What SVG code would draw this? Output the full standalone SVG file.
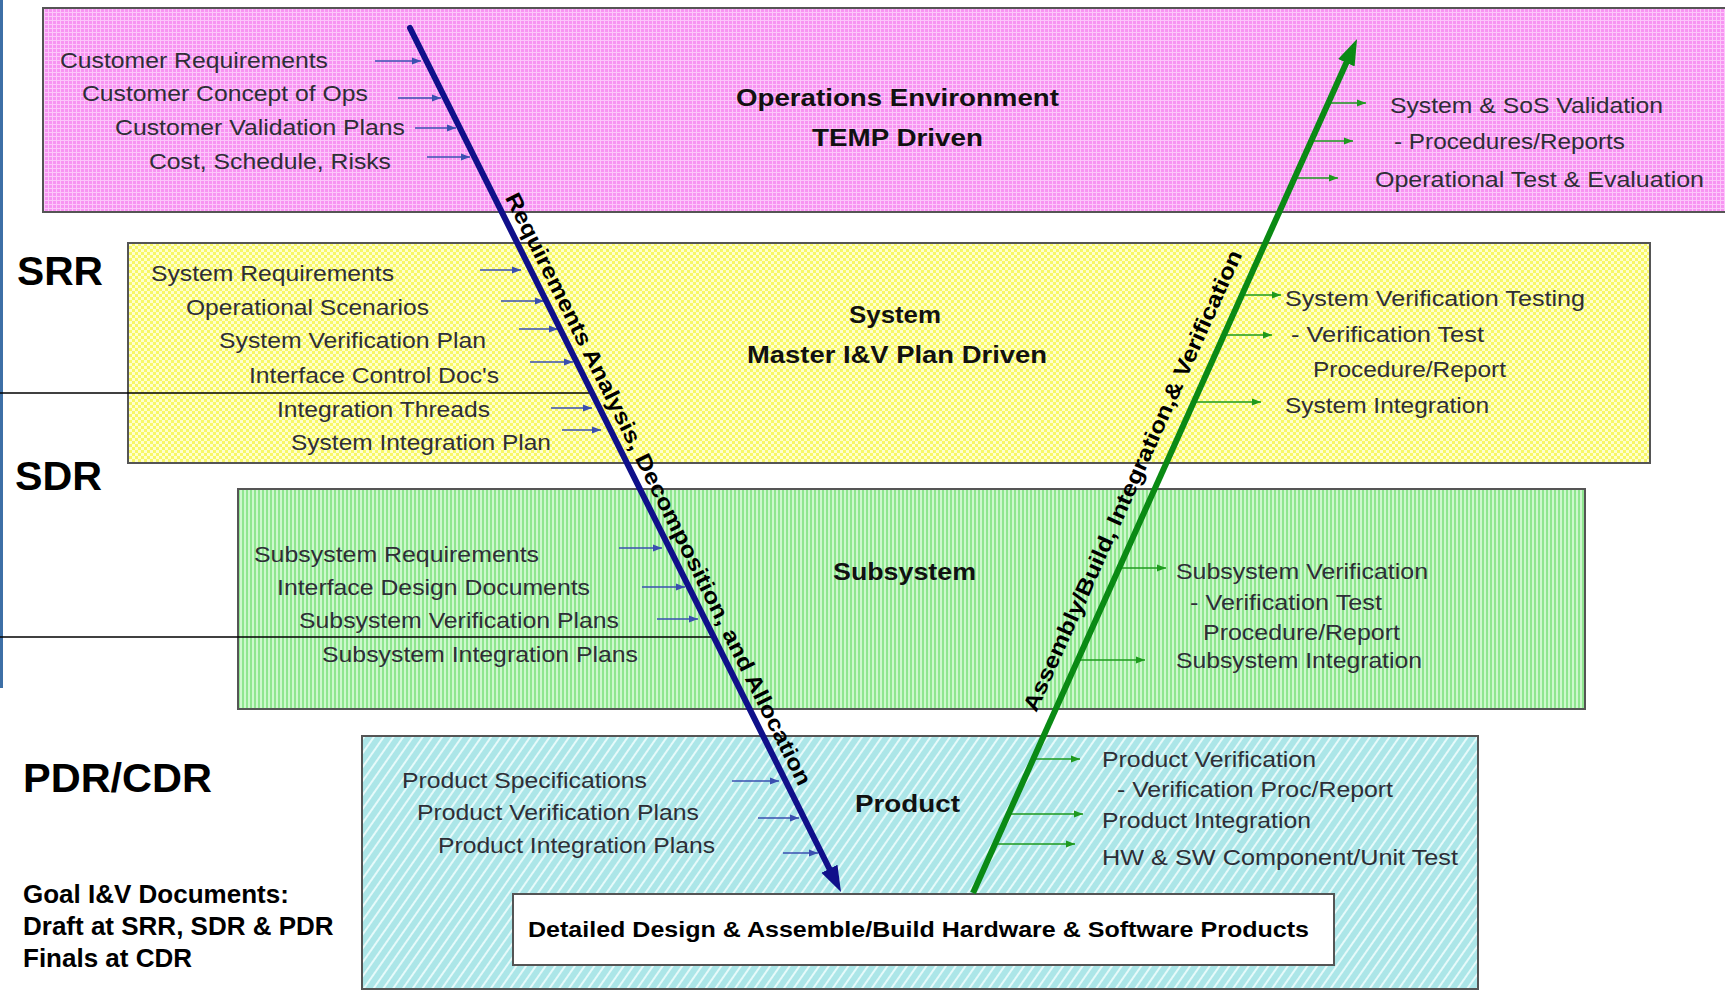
<svg xmlns="http://www.w3.org/2000/svg" width="1725" height="991" viewBox="0 0 1725 991">
<style>
.t{font-family:"Liberation Sans",Arial,sans-serif;font-size:22px;fill:#2e2e36}
.b{font-family:"Liberation Sans",Arial,sans-serif;font-weight:bold;font-size:24px;fill:#111}
.h{font-family:"Liberation Sans",Arial,sans-serif;font-weight:bold;font-size:40px;fill:#000}
.g{font-family:"Liberation Sans",Arial,sans-serif;font-weight:bold;font-size:26px;fill:#000}
.r{font-family:"Liberation Sans",Arial,sans-serif;font-weight:bold;font-size:22px;fill:#000}
.box{stroke:#555;stroke-width:2}
.sb{stroke:#3a4fb0;stroke-width:1.6;fill:none}
.sg{stroke:#1e9a1e;stroke-width:1.6;fill:none}
</style>
<defs>
<pattern id="pk" width="4" height="4" patternUnits="userSpaceOnUse"><rect width="4" height="4" fill="#f794f2"/><path d="M0 0.5H4M0.5 0V4" stroke="#fcc6fa" stroke-width="1"/></pattern>
<pattern id="yl" width="6" height="6" patternUnits="userSpaceOnUse"><rect width="6" height="6" fill="#f7f766"/><rect width="3" height="3" fill="#ffffcc"/><rect x="3" y="3" width="3" height="3" fill="#ffffcc"/></pattern>
<pattern id="gr" width="4" height="4" patternUnits="userSpaceOnUse"><rect width="4" height="4" fill="#8fe68f"/><rect width="2" height="4" fill="#cdf8cd"/></pattern>
<pattern id="cy" width="8" height="8" patternUnits="userSpaceOnUse" patternTransform="rotate(35)"><rect width="8" height="8" fill="#ace6e8"/><rect width="2" height="8" fill="#e6fafa"/></pattern>
<marker id="ab" markerWidth="9" markerHeight="8" refX="9" refY="4" orient="auto" markerUnits="userSpaceOnUse"><path d="M0,0.5 L9,4 L0,7.5 z" fill="#3a4fb0"/></marker>
<marker id="ag" markerWidth="9" markerHeight="8" refX="9" refY="4" orient="auto" markerUnits="userSpaceOnUse"><path d="M0,0.5 L9,4 L0,7.5 z" fill="#1e9a1e"/></marker>
<marker id="bigB" markerWidth="26" markerHeight="20" refX="12" refY="10" orient="auto" markerUnits="userSpaceOnUse"><path d="M0,1 L26,10 L0,19 z" fill="#10108a"/></marker>
<marker id="bigG" markerWidth="26" markerHeight="20" refX="12" refY="10" orient="auto" markerUnits="userSpaceOnUse"><path d="M0,1 L26,10 L0,19 z" fill="#0a8a14"/></marker>
</defs>
<rect width="1725" height="991" fill="#fff"/>
<rect x="0" y="0" width="3" height="688" fill="#3d6fa6"/>

<g id="ops">
<rect class="box" x="43" y="8" width="1700" height="204" fill="url(#pk)"/>
<text class="t" x="60" y="68" textLength="268" lengthAdjust="spacingAndGlyphs">Customer Requirements</text>
<text class="t" x="82" y="101" textLength="286" lengthAdjust="spacingAndGlyphs">Customer Concept of Ops</text>
<text class="t" x="115" y="135" textLength="290" lengthAdjust="spacingAndGlyphs">Customer Validation Plans</text>
<text class="t" x="149" y="169" textLength="242" lengthAdjust="spacingAndGlyphs">Cost, Schedule, Risks</text>
<text class="b" x="736" y="106" textLength="323" lengthAdjust="spacingAndGlyphs">Operations Environment</text>
<text class="b" x="812" y="146" textLength="171" lengthAdjust="spacingAndGlyphs">TEMP Driven</text>
<text class="t" x="1390" y="113" textLength="273" lengthAdjust="spacingAndGlyphs">System &amp; SoS Validation</text>
<text class="t" x="1394" y="149" textLength="231" lengthAdjust="spacingAndGlyphs">- Procedures/Reports</text>
<text class="t" x="1375" y="187" textLength="329" lengthAdjust="spacingAndGlyphs">Operational Test &amp; Evaluation</text>
</g>

<g id="system">
<rect class="box" x="128" y="243" width="1522" height="220" fill="url(#yl)"/>
<text class="t" x="151" y="281" textLength="243" lengthAdjust="spacingAndGlyphs">System Requirements</text>
<text class="t" x="186" y="315" textLength="243" lengthAdjust="spacingAndGlyphs">Operational Scenarios</text>
<text class="t" x="219" y="348" textLength="267" lengthAdjust="spacingAndGlyphs">System Verification Plan</text>
<text class="t" x="249" y="383" textLength="250" lengthAdjust="spacingAndGlyphs">Interface Control Doc's</text>
<text class="t" x="277" y="417" textLength="213" lengthAdjust="spacingAndGlyphs">Integration Threads</text>
<text class="t" x="291" y="450" textLength="260" lengthAdjust="spacingAndGlyphs">System Integration Plan</text>
<text class="b" x="849" y="323" textLength="92" lengthAdjust="spacingAndGlyphs">System</text>
<text class="b" x="747" y="363" textLength="300" lengthAdjust="spacingAndGlyphs">Master I&amp;V Plan Driven</text>
<text class="t" x="1285" y="306" textLength="300" lengthAdjust="spacingAndGlyphs">System Verification Testing</text>
<text class="t" x="1291" y="342" textLength="193" lengthAdjust="spacingAndGlyphs">- Verification Test</text>
<text class="t" x="1313" y="377" textLength="193" lengthAdjust="spacingAndGlyphs">Procedure/Report</text>
<text class="t" x="1285" y="413" textLength="204" lengthAdjust="spacingAndGlyphs">System Integration</text>
</g>

<g id="subsystem">
<rect class="box" x="238" y="489" width="1347" height="220" fill="url(#gr)"/>
<text class="t" x="254" y="562" textLength="285" lengthAdjust="spacingAndGlyphs">Subsystem Requirements</text>
<text class="t" x="277" y="595" textLength="313" lengthAdjust="spacingAndGlyphs">Interface Design Documents</text>
<text class="t" x="299" y="628" textLength="320" lengthAdjust="spacingAndGlyphs">Subsystem Verification Plans</text>
<text class="t" x="322" y="662" textLength="316" lengthAdjust="spacingAndGlyphs">Subsystem Integration Plans</text>
<text class="b" x="833" y="580" textLength="143" lengthAdjust="spacingAndGlyphs">Subsystem</text>
<text class="t" x="1176" y="579" textLength="252" lengthAdjust="spacingAndGlyphs">Subsystem Verification</text>
<text class="t" x="1190" y="610" textLength="192" lengthAdjust="spacingAndGlyphs">- Verification Test</text>
<text class="t" x="1203" y="640" textLength="197" lengthAdjust="spacingAndGlyphs">Procedure/Report</text>
<text class="t" x="1176" y="668" textLength="246" lengthAdjust="spacingAndGlyphs">Subsystem Integration</text>
</g>

<g id="product">
<rect class="box" x="362" y="736" width="1116" height="253" fill="url(#cy)"/>
<text class="t" x="402" y="788" textLength="245" lengthAdjust="spacingAndGlyphs">Product Specifications</text>
<text class="t" x="417" y="820" textLength="282" lengthAdjust="spacingAndGlyphs">Product Verification Plans</text>
<text class="t" x="438" y="853" textLength="277" lengthAdjust="spacingAndGlyphs">Product Integration Plans</text>
<text class="b" x="855" y="812" textLength="105" lengthAdjust="spacingAndGlyphs">Product</text>
<text class="t" x="1102" y="767" textLength="214" lengthAdjust="spacingAndGlyphs">Product Verification</text>
<text class="t" x="1117" y="797" textLength="276" lengthAdjust="spacingAndGlyphs">- Verification Proc/Report</text>
<text class="t" x="1102" y="828" textLength="209" lengthAdjust="spacingAndGlyphs">Product Integration</text>
<text class="t" x="1102" y="865" textLength="356" lengthAdjust="spacingAndGlyphs">HW &amp; SW Component/Unit Test</text>
</g>

<g id="design">
<rect class="box" x="513" y="894" width="821" height="71" fill="#fff"/>
<text class="r" x="528" y="937" textLength="781" lengthAdjust="spacingAndGlyphs">Detailed Design &amp; Assemble/Build Hardware &amp; Software Products</text>
</g>

<g id="reviews">
<text class="h" x="17" y="285" textLength="86" lengthAdjust="spacingAndGlyphs">SRR</text>
<text class="h" x="15" y="490" textLength="87" lengthAdjust="spacingAndGlyphs">SDR</text>
<text class="h" x="23" y="792" textLength="189" lengthAdjust="spacingAndGlyphs">PDR/CDR</text>
<line x1="0" y1="393" x2="592" y2="393" stroke="#000" stroke-width="1.6"/>
<line x1="0" y1="637" x2="714" y2="637" stroke="#000" stroke-width="1.6"/>
</g>

<g id="goal">
<text class="g" x="23" y="903">Goal I&amp;V Documents:</text>
<text class="g" x="23" y="935">Draft at SRR, SDR &amp; PDR</text>
<text class="g" x="23" y="967">Finals at CDR</text>
</g>

<g id="connectors">
<g class="sb" marker-end="url(#ab)">
<line x1="375" y1="61" x2="421" y2="61"/>
<line x1="398" y1="98" x2="441" y2="98"/>
<line x1="415" y1="128" x2="456" y2="128"/>
<line x1="427" y1="157" x2="470" y2="157"/>
<line x1="480" y1="270" x2="521" y2="270"/>
<line x1="501" y1="301" x2="544" y2="301"/>
<line x1="519" y1="329" x2="558" y2="329"/>
<line x1="530" y1="362" x2="573" y2="362"/>
<line x1="551" y1="408" x2="592" y2="408"/>
<line x1="562" y1="430" x2="601" y2="430"/>
<line x1="619" y1="548" x2="662" y2="548"/>
<line x1="642" y1="587" x2="685" y2="587"/>
<line x1="657" y1="619" x2="698" y2="619"/>
<line x1="732" y1="781" x2="779" y2="781"/>
<line x1="758" y1="818" x2="799" y2="818"/>
<line x1="783" y1="853" x2="818" y2="853"/>
</g>
<g class="sg" marker-end="url(#ag)">
<line x1="1328" y1="103" x2="1366" y2="103"/>
<line x1="1311" y1="141" x2="1353" y2="141"/>
<line x1="1294" y1="178" x2="1338" y2="178"/>
<line x1="1242" y1="295" x2="1281" y2="295"/>
<line x1="1224" y1="335" x2="1272" y2="335"/>
<line x1="1194" y1="402" x2="1261" y2="402"/>
<line x1="1119" y1="568" x2="1166" y2="568"/>
<line x1="1078" y1="660" x2="1145" y2="660"/>
<line x1="1033" y1="759" x2="1080" y2="759"/>
<line x1="1008" y1="814" x2="1083" y2="814"/>
<line x1="995" y1="844" x2="1075" y2="844"/>
</g>
<line x1="410" y1="28" x2="834.75" y2="879.5" stroke="#10108a" stroke-width="6" stroke-linecap="round" marker-end="url(#bigB)"/>
<line x1="973" y1="893" x2="1351.3" y2="51.8" stroke="#0a8a14" stroke-width="6" marker-end="url(#bigG)"/>
<text class="r" transform="translate(504.7,197.6) rotate(63.5)" textLength="659" lengthAdjust="spacingAndGlyphs">Requirements Analysis, Decomposition, and Allocation</text>
<text class="r" transform="translate(1036.3,713.1) rotate(-65.8)" textLength="503" lengthAdjust="spacingAndGlyphs">Assembly/Build, Integration,&amp; Verification</text>
</g>
</svg>
